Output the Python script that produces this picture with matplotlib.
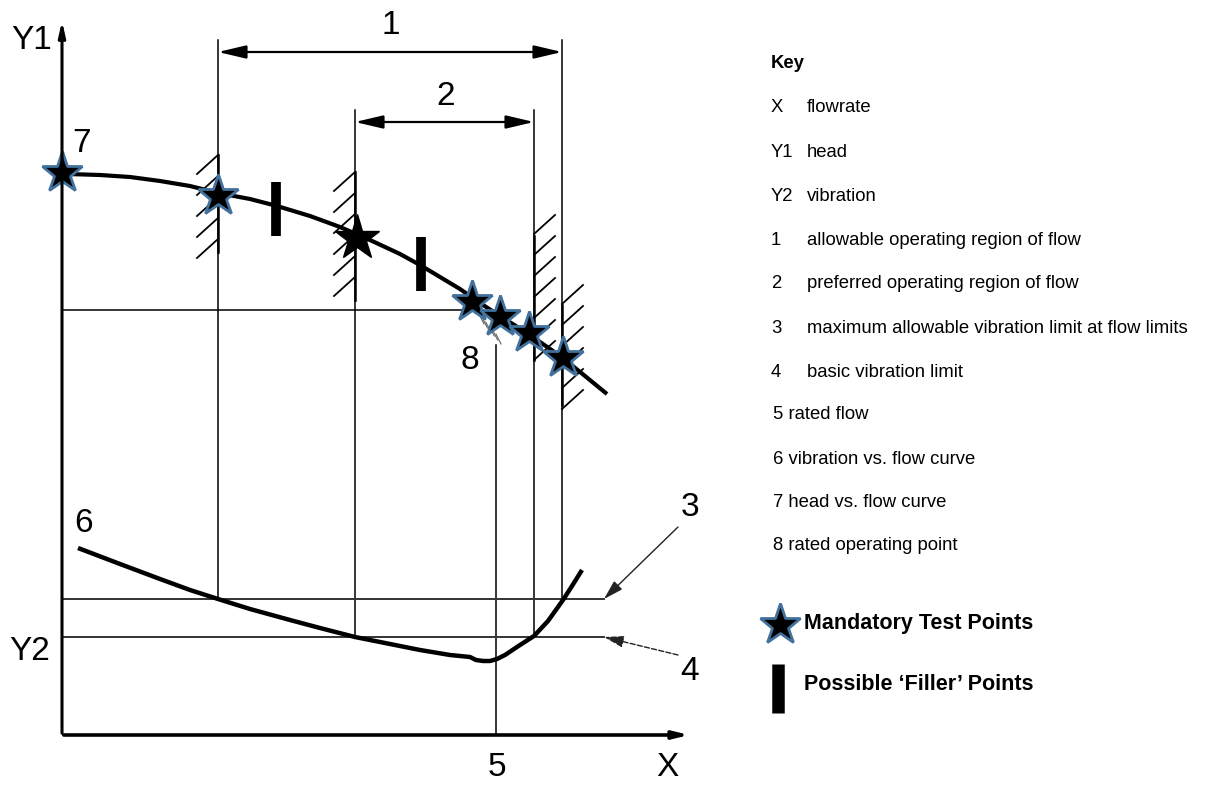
import matplotlib
matplotlib.use("Agg")
import matplotlib.pyplot as plt
import numpy as np

plt.rcParams['font.family'] = ['Liberation Sans', 'DejaVu Sans']

# ---- data (diagram coordinates, pixel-like, y downward) ----
head_x = [68, 100, 130, 160, 190, 218, 250, 277, 310, 340, 370, 400, 420, 440, 460, 480, 500, 530, 563, 607]
head_y = [174, 175, 177, 181, 186, 193, 199, 206, 216, 227, 240, 254, 265, 277, 289, 303, 316, 335, 358, 394]
vib_x = [78, 120, 160, 190, 218, 250, 290, 320, 355, 390, 420, 450, 470, 476, 483, 490, 497, 505, 520, 534, 548, 563, 572, 582]
vib_y = [548, 564, 579, 590, 599, 609, 620, 628, 637, 644, 650, 655, 657, 660, 661, 661, 659, 655, 645, 636, 621, 600, 586, 570]
star_x = [62, 218, 472, 500, 529, 563]
star_y = [173, 196, 302, 317, 333, 358]
big_star = (357, 238)
filler_x = [276, 421]
filler_top = [182, 237]
filler_bot = [236, 291]
vib_limit_max = 599
vib_limit_basic = 637
rated_head = 310

key_syms = ["X", "Y1", "Y2", "1", "2", "3", "4"]
key_texts = ["flowrate", "head", "vibration", "allowable operating region of flow",
             "preferred operating region of flow",
             "maximum allowable vibration limit at flow limits", "basic vibration limit"]
key2 = ["5 rated flow", "6 vibration vs. flow curve", "7 head vs. flow curve", "8 rated operating point"]

fig = plt.figure(figsize=(12.06, 7.89), dpi=100)
ax = fig.add_axes([0, 0, 1, 1])
ax.set_xlim(0, 1206)
ax.set_ylim(789, 0)
ax.axis('off')

K = 'black'
thin = 1.1
# axes
ax.annotate('', xy=(62, 18), xytext=(62, 736),
            arrowprops=dict(arrowstyle='-|>,head_length=0.9,head_width=0.2', color=K, lw=2.2))
ax.annotate('', xy=(692, 735), xytext=(61, 735),
            arrowprops=dict(arrowstyle='-|>,head_length=0.9,head_width=0.22', color=K, lw=2.6))

# vertical flow-limit lines
ax.plot([218, 218], [40, vib_limit_max], color=K, lw=thin)
ax.plot([355, 355], [110, vib_limit_basic], color=K, lw=thin)
ax.plot([496, 496], [345, 735], color=K, lw=thin)
ax.plot([534, 534], [110, vib_limit_basic], color=K, lw=thin)
ax.plot([562, 562], [40, vib_limit_max], color=K, lw=thin)

# horizontal lines
ax.plot([62, 472], [rated_head, rated_head], color=K, lw=thin)
ax.plot([62, 604], [vib_limit_max, vib_limit_max], color='#333333', lw=1.4)
ax.plot([62, 604], [vib_limit_basic, vib_limit_basic], color='#333333', lw=1.4)

# dimension arrows
dim = dict(arrowstyle='<|-|>,head_length=1.7,head_width=0.4', color=K, lw=1.6, shrinkA=0, shrinkB=0)
ax.annotate('', xy=(218, 52), xytext=(562, 52), arrowprops=dim)
ax.annotate('', xy=(355, 122), xytext=(534, 122), arrowprops=dim)

# hatching
def hatch(x, y0, y1, side, step=21, dx=21, dy=19):
    for y in np.arange(y0, y1, step):
        if side == 'left':
            ax.plot([x, x - dx], [y, y + dy], color=K, lw=1.3)
        else:
            ax.plot([x, x + dx], [y + dy, y], color=K, lw=1.3)
ax.plot([218, 218], [155, 252], color=K, lw=1.8)
hatch(218, 155, 245, 'left')
ax.plot([355, 355], [172, 300], color=K, lw=1.8)
hatch(355, 172, 290, 'left')
ax.plot([534, 534], [236, 360], color=K, lw=1.8)
hatch(534, 215, 345, 'right')
ax.plot([562, 562], [305, 405], color=K, lw=1.8)
hatch(562, 285, 395, 'right')
for i in range(6):
    ax.plot([479 + i * 3.4, 484 + i * 3.4], [314 + i * 4, 324 + i * 4], color='#666666', lw=0.8)

# curves
ax.plot(head_x, head_y, color=K, lw=3, solid_capstyle='butt', solid_joinstyle='round')
ax.plot(vib_x, vib_y, color=K, lw=3.2, solid_capstyle='butt', solid_joinstyle='round')

# filler bars
for x, t, b in zip(filler_x, filler_top, filler_bot):
    ax.plot([x, x], [t, b], color=K, lw=7, solid_capstyle='butt')

# stars
ax.plot(star_x, star_y, ls='none', marker='*', ms=31, mfc=K, mec='#41719c', mew=2)
ax.plot([big_star[0]], [big_star[1]], ls='none', marker='*', ms=34, mfc=K, mec=K, mew=1)

# arrows for 3 and 4
ax.annotate('', xy=(604, 599), xytext=(678, 527),
            arrowprops=dict(arrowstyle='-|>,head_length=1.2,head_width=0.35', color='#222222', lw=1.0, shrinkA=0, shrinkB=0))
ax.annotate('', xy=(604, 637), xytext=(678, 655),
            arrowprops=dict(arrowstyle='-|>,head_length=1.2,head_width=0.35', color='#222222', lw=1.0,
                            ls='--', shrinkA=0, shrinkB=0))

# labels in the diagram
fs = 24
for s, x, y in [("Y1", 32, 40), ("7", 82, 143), ("1", 391, 25), ("2", 446, 96), ("8", 470, 360),
                ("6", 84, 524), ("Y2", 30, 652), ("3", 690, 508), ("4", 690, 672),
                ("5", 497, 768), ("X", 667, 768)]:
    ax.text(x, y, s, fontsize=fs, ha='center', va='center', color=K)

# key
kfs = 13.3
ax.text(771, 63, "Key", fontsize=kfs, fontweight='bold', va='center', ha='left')
rows = [107, 152, 196, 240, 283, 328, 372]
for s, t, y in zip(key_syms, key_texts, rows):
    ax.text(771, y, s, fontsize=kfs, va='center', ha='left')
    ax.text(807, y, t, fontsize=kfs, va='center', ha='left')
for t, y in zip(key2, [414, 459, 502, 546]):
    ax.text(773, y, t, fontsize=kfs, va='center', ha='left')

ax.plot([780], [625], marker='*', ms=31, mfc=K, mec='#41719c', mew=2, ls='none')
ax.text(804, 624, "Mandatory Test Points", fontsize=15.5, fontweight='bold', va='center', ha='left')
ax.plot([778, 778], [664, 713], color=K, lw=9, solid_capstyle='butt')
ax.text(804, 685, "Possible \u2018Filler\u2019 Points", fontsize=15.5, fontweight='bold', va='center', ha='left')

fig.savefig("out.png", dpi=100)
